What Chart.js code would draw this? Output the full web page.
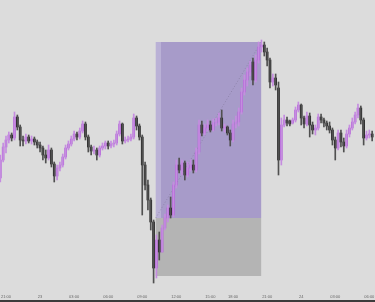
<!DOCTYPE html>
<html><head><meta charset="utf-8">
<script src="https://cdn.jsdelivr.net/npm/chart.js@4.4.1/dist/chart.umd.min.js"></script>
<style>html,body{margin:0;padding:0;background:#dcdcdc;overflow:hidden}canvas{display:block}</style>
</head><body>
<canvas id="c" width="375" height="302"></canvas>
<script>
// 15-minute bars, 20:30 (22nd) .. 06:45 (24th), CME session break 17:00-18:00
const opens = [
122,140,153,160,165,162,183,173,160,159,
163,159,161,158,155,152,145,142,150,136,
124,132,135,143,152,156,161,166,163,169,
176,163,153,149,150,145,152,154,157,154,
156,157,166,176,159,160,161,163,182,174,
163,135,115,100,78,32,60,48,72,82,
92,85,115,135,130,137,125,132,135,130,
148,175,167,172,175,170,177,178,182,172,
173,167,160,176,178,188,208,220,228,238,
220,240,253,255,248,240,218,222,212,140,
175,180,179,177,180,190,195,182,176,184,
175,170,172,183,180,177,174,170,160,152,
167,158,154,166,172,178,185,192,180,162,
165,166];
const highs = [
145,157,164,168,167,188,185,175,164,166,
165,164,163,160,158,154,150,155,152,138,
135,138,146,155,159,164,169,168,172,179,
178,165,155,154,152,154,157,159,159,159,
160,169,179,177,163,164,166,186,184,176,
165,138,120,102,80,65,68,75,86,95,
103,118,140,142,140,139,138,140,140,152,
180,179,176,180,179,181,182,187,190,176,
174,170,180,184,192,212,225,232,239,242,
245,258,260,258,252,242,226,226,218,182,
185,183,180,182,193,198,196,184,188,187,
178,175,186,186,182,179,178,172,163,170,
170,162,170,175,182,188,196,194,182,169,
170,169];
const lows = [
118,138,147,157,159,160,170,154,154,156,
157,156,155,152,148,140,137,140,133,118,
120,129,133,141,150,154,159,160,161,167,
160,148,145,146,140,143,150,151,151,152,
153,155,164,156,157,158,159,161,170,160,
85,110,90,70,17,22,40,48,70,78,
82,83,112,127,125,120,123,129,127,128,
146,164,165,169,168,169,174,175,169,168,
165,154,158,172,174,186,205,214,224,215,
218,237,248,244,234,212,214,210,125,135,
173,174,174,176,178,188,175,172,174,163,
166,165,170,177,173,170,167,155,140,150,
153,148,152,163,170,176,182,176,155,160,
162,159];
const closes = [
140,153,160,165,162,183,173,160,159,163,
159,161,158,155,152,145,142,150,136,124,
132,135,143,152,156,161,166,163,169,176,
163,153,149,150,145,152,154,157,154,156,
157,166,176,159,160,161,163,182,174,163,
135,115,100,78,32,60,48,72,82,92,
85,115,135,130,137,125,132,135,130,148,
175,167,172,175,170,177,178,182,172,173,
167,160,176,178,188,208,220,228,235,220,
240,253,255,248,240,218,222,215,140,175,
180,177,176,180,190,195,182,176,184,175,
170,172,183,180,177,174,170,160,152,167,
158,154,166,172,178,185,192,180,162,165,
166,163];
const tickIndex = [2,14,26,38,50,62,74,82,94,106,118,130];
const tickLabels = ['21:00','23','03:00','06:00','09:00','12:00','15:00','18:00','21:00','24','03:00','06:00'];
// long-position tool
const tradeStart = 54.75, tradeBand = 56.6, tradeEnd = 91.9;
const entryPrice = 82, targetPrice = 258, stopPrice = 24;

const UP = '#b462d8', DOWN = '#181818', UPWICK = '#c58ce0', DOWNWICK = '#505050';
const isUp = i => closes[i] >= opens[i];

const tradePlugin = {
  id: 'trade',
  beforeDraw(chart) {
    const {ctx, width, height} = chart;
    ctx.save();
    ctx.fillStyle = '#dcdcdc'; ctx.fillRect(0, 0, width, height);
    ctx.fillStyle = '#3c3c3c'; ctx.fillRect(0, height - 2, width, 2);
    ctx.restore();
  },
  beforeDatasetsDraw(chart) {
    const xs = chart.scales.x, ys = chart.scales.y, ctx = chart.ctx;
    const x0 = xs.getPixelForValue(tradeStart), x1 = xs.getPixelForValue(tradeBand), x2 = xs.getPixelForValue(tradeEnd);
    const yT = ys.getPixelForValue(targetPrice), yE = ys.getPixelForValue(entryPrice), yS = ys.getPixelForValue(stopPrice);
    ctx.save();
    ctx.fillStyle = '#bab1d6'; ctx.fillRect(x0, yT, x1 - x0, yE - yT);
    ctx.fillStyle = '#a79bc9'; ctx.fillRect(x1, yT, x2 - x1, yE - yT);
    ctx.fillStyle = '#b4b4b4'; ctx.fillRect(x0, yE, x2 - x0, yS - yE);
    ctx.strokeStyle = 'rgba(125,115,150,0.75)'; ctx.lineWidth = 0.8; ctx.setLineDash([1, 2]);
    ctx.beginPath(); ctx.moveTo(x0, yE); ctx.lineTo(x2, yT); ctx.stroke();
    ctx.restore();
  },
  afterDraw(chart) {
    const xs = chart.scales.x, ctx = chart.ctx;
    ctx.save();
    ctx.fillStyle = '#666';
    ctx.font = '4px "Liberation Sans", Arial, sans-serif';
    ctx.textAlign = 'center'; ctx.textBaseline = 'middle';
    tickIndex.forEach((v, k) => ctx.fillText(tickLabels[k], xs.getPixelForValue(v), xs.top + 6.5));
    ctx.restore();
  }
};

new Chart(document.getElementById('c'), {
  type: 'bar',
  data: {
    datasets: [
      {
        data: closes.map((c, i) => ({x: i, y: [lows[i], highs[i]]})),
        backgroundColor: closes.map((c, i) => isUp(i) ? UPWICK : DOWNWICK),
        barThickness: 1, grouped: false, borderWidth: 0
      },
      {
        data: closes.map((c, i) => ({x: i, y: [opens[i], c]})),
        backgroundColor: closes.map((c, i) => isUp(i) ? UP : DOWN),
        barThickness: 2, grouped: false, borderWidth: 0, minBarLength: 1
      }
    ]
  },
  options: {
    responsive: false, animation: false, devicePixelRatio: 1,
    layout: {padding: 0},
    plugins: {legend: {display: false}, tooltip: {enabled: false}},
    scales: {
      x: {
        type: 'linear', min: -0.11, max: 132, offset: false,
        grid: {display: false}, border: {display: false},
        afterFit(s) { s.height = 12; },
        ticks: {display: false}
      },
      y: {display: false, min: 10, max: 300}
    }
  },
  plugins: [tradePlugin]
});
</script>
</body></html>
